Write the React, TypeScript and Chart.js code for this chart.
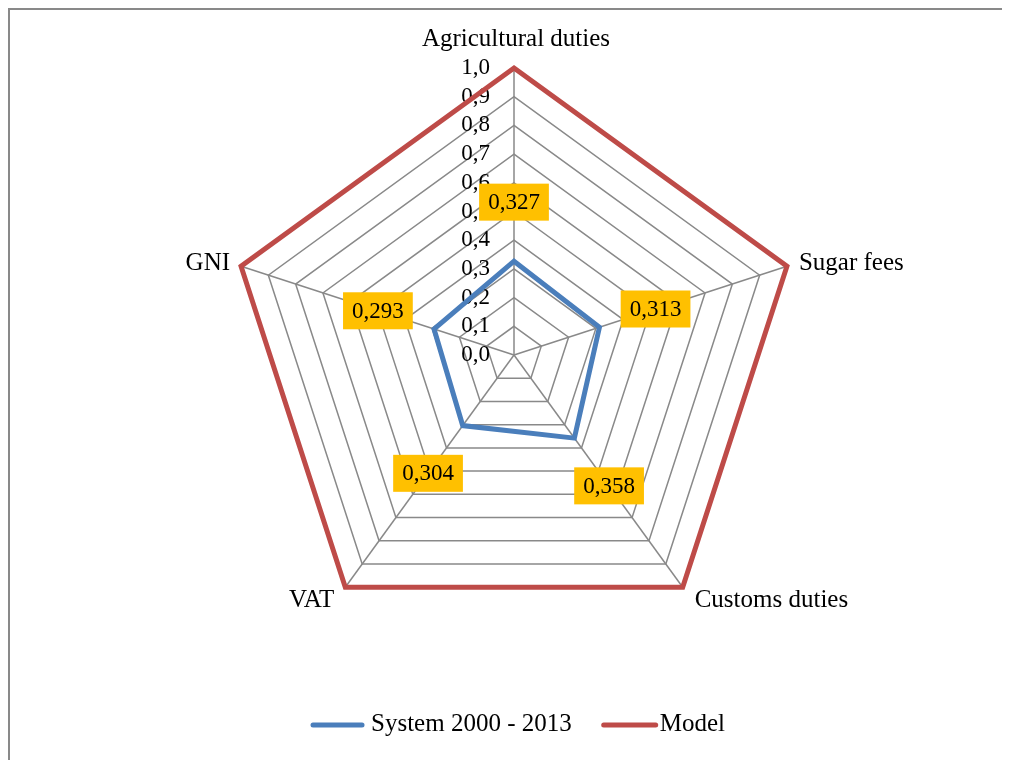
import React, { useEffect, useRef } from 'react';
import { Chart, registerables } from 'chart.js';

Chart.register(...registerables);

const categories = ['Agricultural duties', 'Sugar fees', 'Customs duties', 'VAT', 'GNI'];
const systemValues = [0.327, 0.313, 0.358, 0.304, 0.293];
const modelValues = [1.0, 1.0, 1.0, 1.0, 1.0];
const seriesNames = ['System 2000 - 2013', 'Model'];
const seriesColors = ['#4A7EBB', '#BE4B48'];
const tickValues = [0, 0.1, 0.2, 0.3, 0.4, 0.5, 0.6, 0.7, 0.8, 0.9, 1.0];
const tickLabels = ['0,0', '0,1', '0,2', '0,3', '0,4', '0,5', '0,6', '0,7', '0,8', '0,9', '1,0'];

const FONT = '"Liberation Serif", "Times New Roman", serif';

const sideTicks = {
  id: 'sideTicks',
  beforeDatasetsDraw(chart: any) {
    const s = chart.scales.r;
    const ctx = chart.ctx;
    ctx.save();
    ctx.font = `23px ${FONT}`;
    ctx.fillStyle = '#000';
    ctx.textAlign = 'right';
    ctx.textBaseline = 'middle';
    tickValues.forEach((v, i) => {
      const d = s.getDistanceFromCenterForValue(v);
      ctx.fillText(tickLabels[i], s.xCenter - 24, s.yCenter - d);
    });
    // category labels
    ctx.font = `25px ${FONT}`;
    ctx.textBaseline = 'alphabetic';
    categories.forEach((c, i) => {
      const p = s.getPointPosition(i, s.drawingArea);
      const dx = p.x - s.xCenter;
      const dy = p.y - s.yCenter;
      let x = p.x;
      let y = p.y;
      if (Math.abs(dx) < 1) {
        ctx.textAlign = 'center';
        x = p.x + 2;
        y = p.y - 22;
      } else {
        ctx.textAlign = dx > 0 ? 'left' : 'right';
        x = dx > 0 ? p.x + 12 : p.x - 11;
        y = dy < 0 ? p.y + 4 : p.y + 20;
      }
      ctx.fillText(c, x, y);
    });
    ctx.restore();
  },
};

const boxLabels = {
  id: 'boxLabels',
  afterDatasetsDraw(chart: any) {
    const s = chart.scales.r;
    const ctx = chart.ctx;
    const meta = chart.getDatasetMeta(0);
    ctx.save();
    ctx.font = `23px ${FONT}`;
    ctx.textAlign = 'center';
    ctx.textBaseline = 'middle';
    meta.data.forEach((el: any, i: number) => {
      const dx = el.x - s.xCenter;
      const dy = el.y - s.yCenter;
      const len = Math.sqrt(dx * dx + dy * dy) || 1;
      const x = el.x + (dx / len) * 59;
      const y = el.y + (dy / len) * 59;
      const text = systemValues[i].toFixed(3).replace('.', ',');
      const w = ctx.measureText(text).width + 18;
      const h = 37;
      ctx.fillStyle = '#FFC000';
      ctx.fillRect(x - w / 2, y - h / 2, w, h);
      ctx.fillStyle = '#000';
      ctx.fillText(text, x, y + 1);
    });
    ctx.restore();
  },
};

const lineLegend = {
  id: 'lineLegend',
  afterDraw(chart: any) {
    const ctx = chart.ctx;
    const s = chart.scales.r;
    ctx.save();
    ctx.font = `25px ${FONT}`;
    const lineW = [53, 56];
    const gapAfterLine = [7, 2];
    const gapBetween = 30;
    const widths = seriesNames.map((n) => ctx.measureText(n).width);
    const total = lineW[0] + gapAfterLine[0] + widths[0] + gapBetween + lineW[1] + gapAfterLine[1] + widths[1];
    let x = s.xCenter - total / 2 + 4;
    const yLine = chart.height - 27;
    const yText = yLine + 6;
    seriesNames.forEach((n, i) => {
      ctx.strokeStyle = seriesColors[i];
      ctx.lineWidth = 5;
      ctx.lineCap = 'round';
      ctx.beginPath();
      ctx.moveTo(x + 2, yLine);
      ctx.lineTo(x + lineW[i] - 2, yLine);
      ctx.stroke();
      x += lineW[i] + gapAfterLine[i];
      ctx.fillStyle = '#000';
      ctx.textAlign = 'left';
      ctx.textBaseline = 'alphabetic';
      ctx.fillText(n, x, yText);
      x += widths[i] + gapBetween;
    });
    ctx.restore();
  },
};

export default function App() {
  const ref = useRef<HTMLCanvasElement>(null);
  useEffect(() => {
    document.documentElement.style.overflow = 'hidden';
    if (!ref.current) return;
    const chart = new Chart(ref.current, {
      type: 'radar',
      data: {
        labels: categories,
        datasets: [
          {
            label: seriesNames[0],
            data: systemValues,
            borderColor: seriesColors[0],
            backgroundColor: 'transparent',
            borderWidth: 5,
            pointRadius: 0,
            pointHoverRadius: 0,
            fill: false,
          },
          {
            label: seriesNames[1],
            data: modelValues,
            borderColor: seriesColors[1],
            backgroundColor: 'transparent',
            borderWidth: 5,
            pointRadius: 0,
            pointHoverRadius: 0,
            fill: false,
          },
        ],
      },
      options: {
        animation: false,
        responsive: true,
        maintainAspectRatio: false,
        layout: { padding: { top: 58, bottom: 109, left: 0, right: 0 } },
        scales: {
          r: {
            min: 0,
            max: 1,
            ticks: { display: false, stepSize: 0.1 },
            grid: { color: '#898989', lineWidth: 1.5 },
            angleLines: { color: '#898989', lineWidth: 1.5 },
            pointLabels: { display: false },
          },
        },
        plugins: {
          tooltip: { enabled: false },
          legend: { display: false },
        },
      },
      plugins: [sideTicks, boxLabels, lineLegend],
    });
    return () => chart.destroy();
  }, []);
  return (
    <div
      style={{
        width: 1010,
        height: 760,
        boxSizing: 'border-box',
        borderLeft: '2px solid #898989',
        borderTop: '2px solid #898989',
        position: 'relative',
      }}
    >
      <div style={{ position: 'absolute', left: 0, top: 0, width: 1008, height: 742 }}>
        <canvas ref={ref} />
      </div>
    </div>
  );
}
